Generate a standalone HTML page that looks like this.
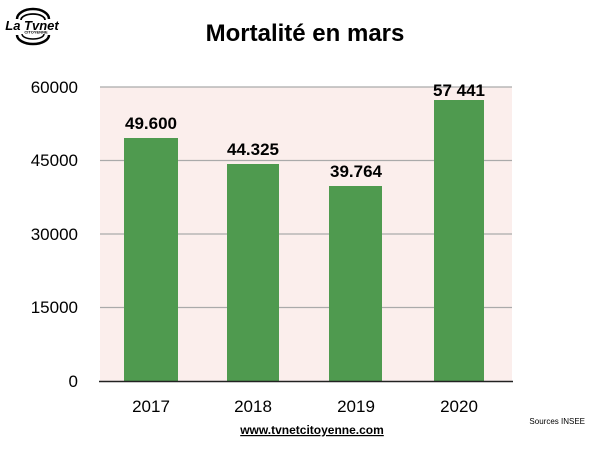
<!DOCTYPE html>
<html><head><meta charset="utf-8"><style>
body{margin:0;background:#fff;}
svg text{font-family:"Liberation Sans",Arial,sans-serif;}
</style></head><body>
<svg width="600" height="450" viewBox="0 0 600 450" xmlns="http://www.w3.org/2000/svg">
<rect width="600" height="450" fill="#fff"/>
<!-- logo -->
<g fill="none" stroke="#000">
<path d="M17,19 A16,10 0 0 1 49,19" stroke-width="2.5"/>
<path d="M21,20 A12,6 0 0 1 45,20" stroke-width="1.8"/>
<path d="M17,35 A16,9 0 0 0 49,35" stroke-width="2.5"/>
<path d="M22,34 A11,5 0 0 0 44,34" stroke-width="1.5"/>
</g>
<text x="32" y="30" font-size="13" font-weight="bold" font-style="italic" text-anchor="middle">La Tvnet</text>
<text x="36" y="33.5" font-size="4" font-weight="bold" text-anchor="middle">CITOYENNE</text>
<text x="305" y="41" font-size="24" font-weight="bold" text-anchor="middle">Mortalité en mars</text>
<rect x="100" y="87" width="412" height="294" fill="#fbeeec"/>
<g stroke="#aaa" stroke-width="1.2">
<line x1="100" y1="87" x2="512" y2="87"/>
<line x1="100" y1="160.5" x2="512" y2="160.5"/>
<line x1="100" y1="234" x2="512" y2="234"/>
<line x1="100" y1="307.5" x2="512" y2="307.5"/>
</g>
<g fill="#4f9a4f">
<rect x="124" y="138" width="54" height="243"/>
<rect x="227" y="164" width="52" height="217"/>
<rect x="329" y="186" width="53" height="195"/>
<rect x="434" y="100" width="50" height="281"/>
</g>
<line x1="99" y1="381.5" x2="513" y2="381.5" stroke="#222" stroke-width="1.5"/>
<g font-size="17" text-anchor="end">
<text x="78" y="93">60000</text>
<text x="78" y="166">45000</text>
<text x="78" y="240">30000</text>
<text x="78" y="313">15000</text>
<text x="78" y="387">0</text>
</g>
<g font-size="17" text-anchor="middle">
<text x="151" y="412">2017</text>
<text x="253" y="412">2018</text>
<text x="356" y="412">2019</text>
<text x="459" y="412">2020</text>
</g>
<g font-size="17" font-weight="bold" text-anchor="middle">
<text x="151" y="129">49.600</text>
<text x="253" y="155">44.325</text>
<text x="356" y="177">39.764</text>
<text x="459" y="96">57 441</text>
</g>
<text x="312" y="434" font-size="12" font-weight="bold" text-anchor="middle" text-decoration="underline">www.tvnetcitoyenne.com</text>
<text x="585" y="424" font-size="8" text-anchor="end">Sources INSEE</text>
</svg>
</body></html>
